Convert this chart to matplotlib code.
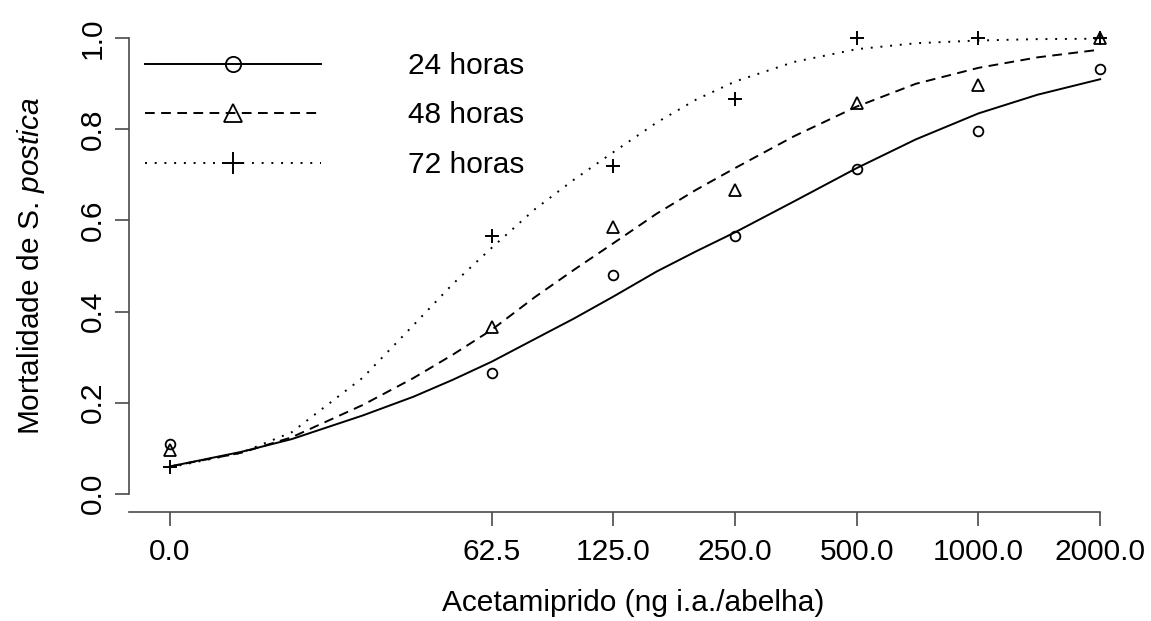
import matplotlib
matplotlib.use("Agg")
import matplotlib.pyplot as plt
from matplotlib.lines import Line2D

plt.rcParams['font.family'] = ['Liberation Sans', 'DejaVu Sans']
plt.rcParams['mathtext.fontset'] = 'custom'
plt.rcParams['mathtext.it'] = 'Liberation Sans:italic'
plt.rcParams['mathtext.rm'] = 'Liberation Sans'

# doses (ng i.a./abelha); the control (0) is drawn at 10 on the log axis
doses = [0, 62.5, 125, 250, 500, 1000, 2000]
dose_labels = ['0.0', '62.5', '125.0', '250.0', '500.0', '1000.0', '2000.0']
zero_pos = 10

# observed mortality
mort_24 = [0.11, 0.265, 0.48, 0.566, 0.714, 0.796, 0.933]
mort_48 = [0.096, 0.367, 0.585, 0.667, 0.857, 0.898, 1.0]
mort_72 = [0.058, 0.566, 0.72, 0.866, 1.0, 1.0, 1.0]

# fitted curves
curve_dose = [10, 15, 20, 30, 40, 50, 62.5, 80, 100, 125, 160, 200, 250,
              350, 500, 700, 1000, 1400, 2000]
curve_24 = [0.06, 0.092, 0.12, 0.172, 0.213, 0.25, 0.29, 0.34, 0.385, 0.433,
            0.488, 0.532, 0.574, 0.642, 0.715, 0.778, 0.835, 0.876, 0.91]
curve_48 = [0.06, 0.09, 0.124, 0.195, 0.254, 0.305, 0.36, 0.432, 0.492, 0.55,
            0.615, 0.667, 0.715, 0.785, 0.85, 0.9, 0.935, 0.958, 0.975]
curve_72 = [0.058, 0.09, 0.135, 0.255, 0.37, 0.46, 0.54, 0.625, 0.69, 0.75,
            0.815, 0.865, 0.905, 0.948, 0.976, 0.989, 0.995, 0.998, 0.999]

labels = ['24 horas', '48 horas', '72 horas']

xpos = [zero_pos if d == 0 else d for d in doses]

fig = plt.figure(figsize=(11.51, 6.21), dpi=100)
ax = fig.add_axes([0.1121, 0.1755, 0.8757, 0.7923])

lw = 1.4
dash = (5, 3.3)
dot = (1.0, 4.0)
axcol = '#4a4a4a'

ax.plot(curve_dose, curve_24, color='black', lw=lw, ls='-')
ax.plot(curve_dose, curve_48, color='black', lw=lw, ls=(0, dash))
ax.plot(curve_dose, curve_72, color='black', lw=lw, ls=(0, dot))

ax.plot(xpos, mort_24, ls='none', marker='o', ms=7, mfc='none', mec='black', mew=1.3)
ax.plot(xpos, mort_48, ls='none', marker='^', ms=8.5, mfc='none', mec='black', mew=1.3)
ax.plot(xpos, mort_72, ls='none', marker='+', ms=10, mec='black', mew=1.4)

ax.set_xscale('log')
ax.set_xlim(7.92, 2466)
ax.set_ylim(-0.04, 1.04)
ax.minorticks_off()
ax.set_xticks(xpos)
ax.set_xticklabels(dose_labels)
ax.set_yticks([0, 0.2, 0.4, 0.6, 0.8, 1.0])
ax.set_yticklabels(['0.0', '0.2', '0.4', '0.6', '0.8', '1.0'], rotation=90, va='center')

for s in ['top', 'right']:
    ax.spines[s].set_visible(False)
ax.spines['left'].set_bounds(0, 1)
ax.spines['bottom'].set_bounds(7.92, 2000)
for s in ['left', 'bottom']:
    ax.spines[s].set_color(axcol)
    ax.spines[s].set_linewidth(1.2)

ax.tick_params(axis='both', length=10, width=1.2, color=axcol, labelsize=21.5)
ax.tick_params(axis='x', pad=9)
ax.tick_params(axis='y', pad=6)

ax.set_xlabel('Acetamiprido (ng i.a./abelha)', fontsize=21.5, labelpad=16)
ax.set_ylabel(r'Mortalidade de S. $\mathit{postica}$', fontsize=21.5, labelpad=23)

handles = [
    Line2D([], [], color='black', lw=lw, ls='-', marker='o', ms=11, mfc='none', mew=1.3),
    Line2D([], [], color='black', lw=lw, ls=(0, dash), marker='^', ms=13, mfc='none', mew=1.3),
    Line2D([], [], color='black', lw=lw, ls=(0, dot), marker='+', ms=16, mew=1.4),
]
ax.legend(handles, labels, loc='upper left', bbox_to_anchor=(0.0159, 0.935),
          frameon=False, fontsize=21.5, handlelength=5.9, handletextpad=2.9,
          labelspacing=0.72, borderpad=0, borderaxespad=0, numpoints=1)

fig.savefig('out.png', dpi=100)
